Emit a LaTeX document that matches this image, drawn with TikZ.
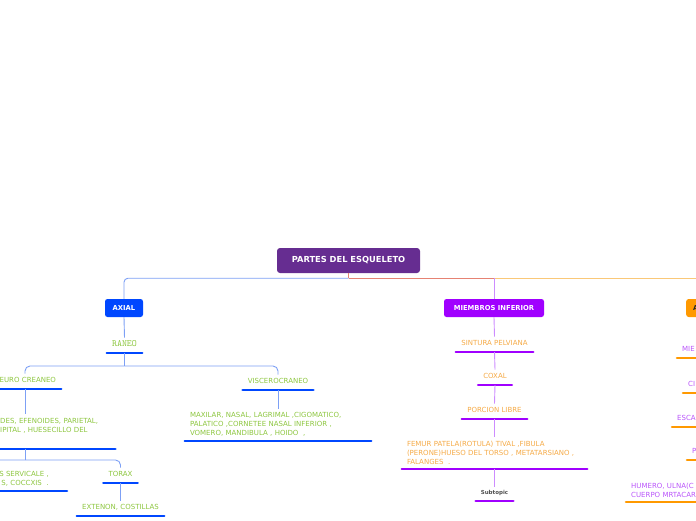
\documentclass[tikz,border=0pt]{standalone}
\usepackage{fontspec}
\setmainfont{DejaVu Sans}
\usetikzlibrary{positioning}
\definecolor{SkRoot}{RGB}{102,45,145}
\definecolor{SkBlue}{RGB}{0,71,255}
\definecolor{SkBlueLine}{RGB}{125,160,245}
\definecolor{SkGreen}{RGB}{141,198,63}
\definecolor{SkSalmon}{RGB}{230,130,115}
\definecolor{SkViolet}{RGB}{160,0,255}
\definecolor{SkVioletLine}{RGB}{205,140,255}
\definecolor{SkOrange}{RGB}{255,153,0}
\definecolor{SkOrangeLine}{RGB}{250,200,120}
\definecolor{SkOrangeText}{RGB}{245,170,70}
\definecolor{SkPurpleText}{RGB}{185,85,250}
\definecolor{SkGray}{RGB}{80,80,80}
\tikzset{
  sk/root/.style={
    rectangle,
    rounded corners=3pt,
    fill=SkRoot,
    text=white,
    minimum width=143pt,
    minimum height=25pt,
    font=\fontsize{8.3}{10}\selectfont\bfseries
  },
  sk/main/.style={
    rectangle,
    rounded corners=2.5pt,
    text=white,
    minimum height=18pt,
    inner xsep=4pt,
    font=\fontsize{6.8}{8}\selectfont\bfseries
  },
  sk/uline/.style={line width=2.6pt, line cap=round, draw=#1},
  sk/link/.style={line width=0.9pt, draw=#1},
  sk/topic/.style={
    anchor=south,
    inner xsep=5pt,
    inner ysep=4pt,
    text height=5pt,
    text depth=2pt,
    font=\fontsize{7}{9}\selectfont,
    append after command={(\tikzlastnode.south west) edge[sk/uline=#1] (\tikzlastnode.south east)}
  },
  sk/block/.style={
    anchor=south,
    align=left,
    inner xsep=5pt,
    inner ysep=4pt,
    font=\fontsize{7}{9}\selectfont,
    append after command={(\tikzlastnode.south west) edge[sk/uline=#1] (\tikzlastnode.south east)}
  },
  sk/cut/.style={anchor=south west, text width=60pt, align=left, text=SkPurpleText}
}
\begin{document}
\begin{tikzpicture}[x=1pt,y=-1pt]
  \useasboundingbox (0,0) rectangle (696,520);
  \clip (0,0) rectangle (696,520);
  \node[sk/root] (root) at (348.5,260.5) {PARTES DEL ESQUELETO};
  \node[sk/main,fill=SkBlue,minimum width=38pt] (axial) at (124,308) {AXIAL};
  \node[sk/main,fill=SkViolet,minimum width=100pt] (minf) at (494,308) {MIEMBROS INFERIOR};
  \node[sk/main,fill=SkOrange,text=black!85,anchor=west,text width=60pt,align=left,inner xsep=7pt] (apend) at (686,308) {A};
  \coordinate (hub) at ([yshift=-5pt]root.south);
  \draw[sk/link=SkSalmon] (root.south) -- (hub);
  \draw[sk/link=SkBlueLine,rounded corners=4pt] (hub) -| (axial.north);
  \draw[sk/link=SkOrangeLine] (hub -| minf.north) -| (apend.north);
  \draw[sk/link=SkSalmon] (hub) -- (hub -| minf.north);
  \draw[sk/link=SkVioletLine] (hub -| minf.north) -- (minf.north);

  \node[sk/topic=SkBlue,text=SkGreen,font=\ttfamily\fontsize{9.5}{10}\selectfont,minimum width=35pt] (craneo) at (124.5,353) {RANEO};
  \node[sk/topic=SkBlue,text=SkGreen,text width=62pt,align=right] (neuro) at (25,389) {EURO CREANEO};
  \node[sk/topic=SkBlue,text=SkGreen,minimum width=70pt] (visc) at (278,390) {VISCEROCRANEO};
  \node[sk/block=SkBlue,text=SkGreen,anchor=south west,text width=110pt] (bones) at (-5,449) {DES, EFENOIDES, PARIETAL,\\IPITAL , HUESECILLO DEL\\[3.5pt]\mbox{}};
  \node[sk/block=SkBlue,text=SkGreen,text width=176pt] (viscbones) at (278,441) {MAXILAR, NASAL, LAGRIMAL ,CIGOMATICO,\\PALATICO ,CORNETEE NASAL INFERIOR ,\\VOMERO, MANDIBULA , HOIDO \ ,};
  \node[sk/block=SkBlue,text=SkGreen,anchor=south east,text width=160pt,align=right,inner xsep=18pt] (serv) at (67,491) {S SERVICALE ,\\S, COCCXIS \ .};
  \node[sk/topic=SkBlue,text=SkGreen,minimum width=33pt] (torax) at (120.5,483) {TORAX};
  \node[sk/topic=SkBlue,text=SkGreen,minimum width=87pt] (cost) at (120.5,516) {EXTENON, COSTILLAS};
  \coordinate (csplit) at ([yshift=-13pt]craneo.south);
  \coordinate (dsplit) at ([yshift=-11pt]neuro.south |- bones.south);
  \draw[sk/link=SkBlueLine] (axial.south) -- (craneo.north);
  \draw[sk/link=SkBlueLine] (craneo.south) -- (csplit);
  \draw[sk/link=SkBlueLine,rounded corners=5pt] (csplit) -| (neuro.north);
  \draw[sk/link=SkBlueLine,rounded corners=5pt] (csplit) -| (visc.north);
  \draw[sk/link=SkBlueLine] (visc.south) -- (viscbones.north);
  \draw[sk/link=SkBlueLine] (neuro.south) -- (neuro.south |- bones.north);
  \draw[sk/link=SkBlueLine] (neuro.south |- bones.south) -- (dsplit);
  \draw[sk/link=SkBlueLine,rounded corners=5pt] (dsplit) -| (torax.north);
  \draw[sk/link=SkBlueLine,rounded corners=5pt] (dsplit) -| (serv.north);
  \draw[sk/link=SkBlueLine] (torax.south) -- (cost.north);

  \node[sk/topic=SkViolet,text=SkOrangeText,minimum width=77pt] (sint) at (494.5,352) {SINTURA PELVIANA};
  \node[sk/topic=SkViolet,text=SkOrangeText,minimum width=32pt] (coxal) at (495,385) {COXAL};
  \node[sk/topic=SkViolet,text=SkOrangeText,minimum width=65pt] (porc) at (494.5,419) {PORCION LIBRE};
  \node[sk/block=SkViolet,text=SkOrangeText,text width=175pt] (femur) at (494.5,469) {FEMUR PATELA(ROTULA) TIVAL ,FIBULA\\(PERONE)HUESO DEL TORSO , METATARSIANO ,\\FALANGES \ .};
  \node[sk/topic=SkViolet,text=SkGray,font=\fontsize{5.5}{7}\selectfont\bfseries,text height=4pt,minimum width=33pt] (subt) at (494.5,501) {Subtopic};
  \draw[sk/link=SkVioletLine] (minf.south) -- (sint.north);
  \draw[sk/link=SkVioletLine] (sint.south) -- (coxal.north);
  \draw[sk/link=SkVioletLine] (coxal.south) -- (porc.north);
  \draw[sk/link=SkVioletLine] (porc.south) -- (femur.north);
  \draw[sk/link=SkVioletLine] (femur.south) -- (subt.north);

  \node[sk/topic=SkOrange,sk/cut] (mie) at (677,358) {MIE};
  \node[sk/topic=SkOrange,sk/cut] (cint) at (683,393) {CI};
  \node[sk/topic=SkOrange,sk/cut] (esca) at (672,427) {ESCA};
  \node[sk/topic=SkOrange,sk/cut] (pfrag) at (687,460) {P};
  \node[sk/block=SkOrange,sk/cut,text width=100pt] (humero) at (626,502) {HUMERO, ULNA(C\\CUERPO MRTACAR};
\end{tikzpicture}
\end{document}
